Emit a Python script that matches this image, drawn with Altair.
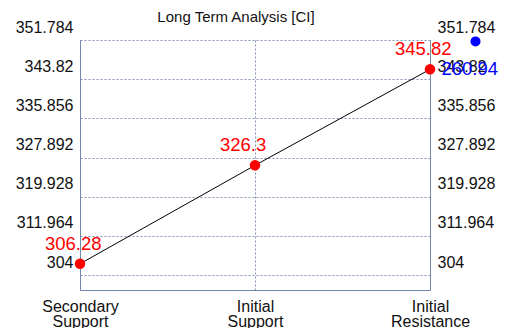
import altair as alt
import pandas as pd

categories = ["Secondary Support", "Initial Support", "Initial Resistance"]
positions = [0, 1, 2]
values = [306.28, 326.3, 345.82]
labels = ["306.28", "326.3", "345.82"]

current_pos = [2.26]
current_value = [351.5]
current_label = ["260.94"]

tick_values = [304, 311.964, 319.928, 327.892, 335.856, 343.82, 351.784]
y_domain = [300.95, 351.784]

df = pd.DataFrame({"pos": positions, "value": values, "label": labels, "cat": categories})
cur = pd.DataFrame({"pos": current_pos, "value": current_value, "label": current_label})

axis_color = "#7088aa"
grid_color = "#8594b4"
font = "Liberation Sans"

label_expr = " : ".join(
    f"datum.value == {p} ? {c.split(' ')!r}" for p, c in zip(positions[:-1], categories[:-1])
) + f" : {categories[-1].split(' ')!r}"

x_enc = alt.X(
    "pos:Q",
    scale=alt.Scale(domain=[0, 2], nice=False, zero=False),
    axis=alt.Axis(
        values=positions, labelExpr=label_expr, title=None, grid=True,
        gridColor=grid_color, gridDash=[2, 2], ticks=False, labelPadding=8,
        labelFontSize=16, labelLineHeight=15, labelFont=font, labelColor="#111",
        domainColor=axis_color, labelAngle=0, labelBaseline="top", labelFlush=False,
        labelOverlap=False, labelAlign="center",
    ),
)

def y_enc(orient, grid):
    return alt.Y(
        "value:Q",
        scale=alt.Scale(domain=y_domain, nice=False, zero=False),
        axis=alt.Axis(
            orient=orient, values=tick_values, title=None, grid=grid,
            gridColor=grid_color, gridDash=[2, 2], ticks=False, labelPadding=7,
            labelOffset=-13, labelFontSize=16, labelFont=font, labelColor="#111",
            domainColor=axis_color, labelFlush=False, labelOverlap=False,
            labelExpr="datum.value == 304 ? '304' : format(datum.value, '.3~f')",
        ),
    )

base = alt.Chart(df)

line = base.mark_line(color="black", strokeWidth=1).encode(x=x_enc, y=y_enc("left", True))
pts = base.mark_point(filled=True, color="red", size=110, opacity=1).encode(x="pos:Q", y="value:Q")
txt = base.mark_text(color="red", fontSize=18.5, font=font, align="left", baseline="alphabetic",
                     dx=-35, dy=-14).encode(x="pos:Q", y="value:Q", text="label:N")

right = alt.Chart(cur).mark_point(filled=True, color="blue", size=100, opacity=1).encode(
    x="pos:Q", y=y_enc("right", False))
right_txt = alt.Chart(cur).mark_text(color="blue", fontSize=18.5, font=font, align="left",
                                     baseline="alphabetic", dx=-34, dy=34).encode(
    x="pos:Q", y="value:Q", text="label:N")

left_layer = alt.layer(line, pts, txt)
right_layer = alt.layer(right, right_txt)

chart = alt.layer(left_layer, right_layer).resolve_scale(y="independent").properties(
    width=350, height=250,
    title=alt.TitleParams("Long Term Analysis [CI]", fontSize=15, font=font, fontWeight="normal",
                          anchor="middle", dx=-19, offset=-6, frame="group", color="#111"),
    padding={"left": 72, "top": 32, "right": 72, "bottom": 38},
    autosize=alt.AutoSizeParams(type="none"),
    background="white",
).configure_view(stroke=None)

chart.save("out.html", embed_options={"renderer": "svg", "actions": False})
